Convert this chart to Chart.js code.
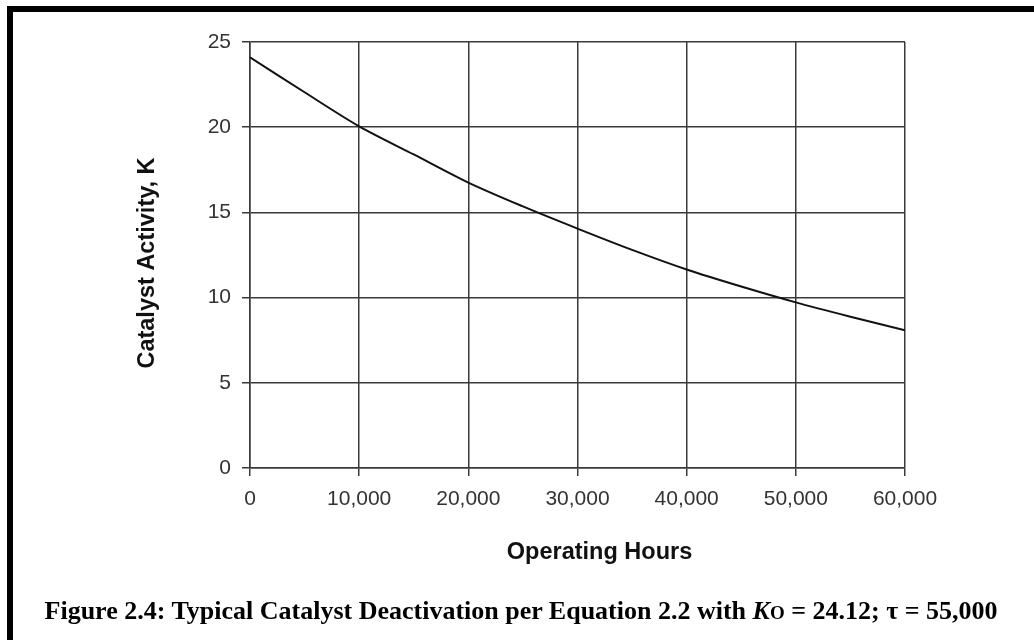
<!DOCTYPE html>
<html>
<head>
<meta charset="utf-8">
<script src="https://cdn.jsdelivr.net/npm/chart.js@4/dist/chart.umd.min.js"></script>
<style>
  html, body { margin: 0; padding: 0; background: #fff; }
  #wrap { position: relative; width: 1034px; height: 640px; overflow: hidden; }
  #frame { position: absolute; left: 7px; top: 6px; width: 1100px; height: 700px;
           border-top: 6px solid #000; border-left: 6px solid #000; }
  canvas { position: absolute; left: 0; top: 0; }
  #caption { position: absolute; left: 0; width: 1042px; top: 596px; text-align: center;
             font: bold 26px "Liberation Serif", "Times New Roman", serif; color: #000; white-space: nowrap; }
  #caption .sub { font-size: 19px; }
</style>
</head>
<body>
<div id="wrap">
  <div id="frame"></div>
  <canvas id="chart" width="1034" height="640"></canvas>
  <div id="caption">Figure 2.4: Typical Catalyst Deactivation per Equation 2.2 with <i>K</i><span class="sub">O</span> = 24.12; τ = 55,000</div>
</div>
<script>
// operating hours and catalyst activity
const hours = [0, 5000, 10000, 15000, 20000, 25000, 30000, 35000, 40000, 45000, 50000, 55000, 60000];
const activity = [24.1, 22.05, 20.05, 18.4, 16.75, 15.35, 14.05, 12.8, 11.65, 10.65, 9.72, 8.88, 8.08];

const xTitle = "Operating Hours";
const yTitle = "Catalyst Activity, K";

const fontFamily = "'Liberation Sans', Arial, sans-serif";
const tickFont = { family: fontFamily, size: 21 };
const gridColor = "#3a3a3a";

// axis titles sit a little off-centre in the original, so draw them by hand
const axisTitles = {
  id: "axisTitles",
  afterDraw(chart) {
    const { ctx, chartArea } = chart;
    ctx.save();
    ctx.fillStyle = "#111";
    ctx.font = "bold 23.5px " + fontFamily;
    ctx.textAlign = "center";
    ctx.textBaseline = "middle";
    ctx.fillText(xTitle, (chartArea.left + chartArea.right) / 2 + 22, chartArea.bottom + 85);
    ctx.translate(148, (chartArea.top + chartArea.bottom) / 2 + 8);
    ctx.rotate(-Math.PI / 2);
    ctx.fillText(yTitle, 0, 0);
    ctx.restore();
  },
};

let ctx = document.getElementById("chart").getContext("2d");

new Chart(ctx, {
  type: "line",
  data: {
    datasets: [
      {
        data: hours.map((h, i) => ({ x: h, y: activity[i] })),
        borderColor: "#111",
        borderWidth: 2,
        pointRadius: 0,
        tension: 0.3,
        fill: false,
      },
    ],
  },
  plugins: [axisTitles],
  options: {
    responsive: false,
    animation: false,
    devicePixelRatio: 1,
    layout: { padding: { left: 0, top: 42, right: 129, bottom: 0 } },
    plugins: {
      legend: { display: false },
      tooltip: { enabled: false },
    },
    scales: {
      x: {
        type: "linear",
        min: 0,
        max: 60000,
        afterFit: (scale) => { scale.height = 172; },
        ticks: {
          stepSize: 10000,
          padding: 11,
          color: "#333",
          font: tickFont,
          maxRotation: 0,
          callback: (v) => v.toLocaleString("en-US"),
        },
        grid: { color: gridColor, lineWidth: 1.5, tickLength: 8 },
        border: { color: gridColor, width: 1.5 },
      },
      y: {
        min: 0,
        max: 25,
        afterFit: (scale) => { scale.width = 250; },
        ticks: { stepSize: 5, padding: 11, color: "#333", font: tickFont },
        grid: { color: gridColor, lineWidth: 1.5, tickLength: 8 },
        border: { color: gridColor, width: 1.5 },
      },
    },
  },
});
</script>
</body>
</html>
